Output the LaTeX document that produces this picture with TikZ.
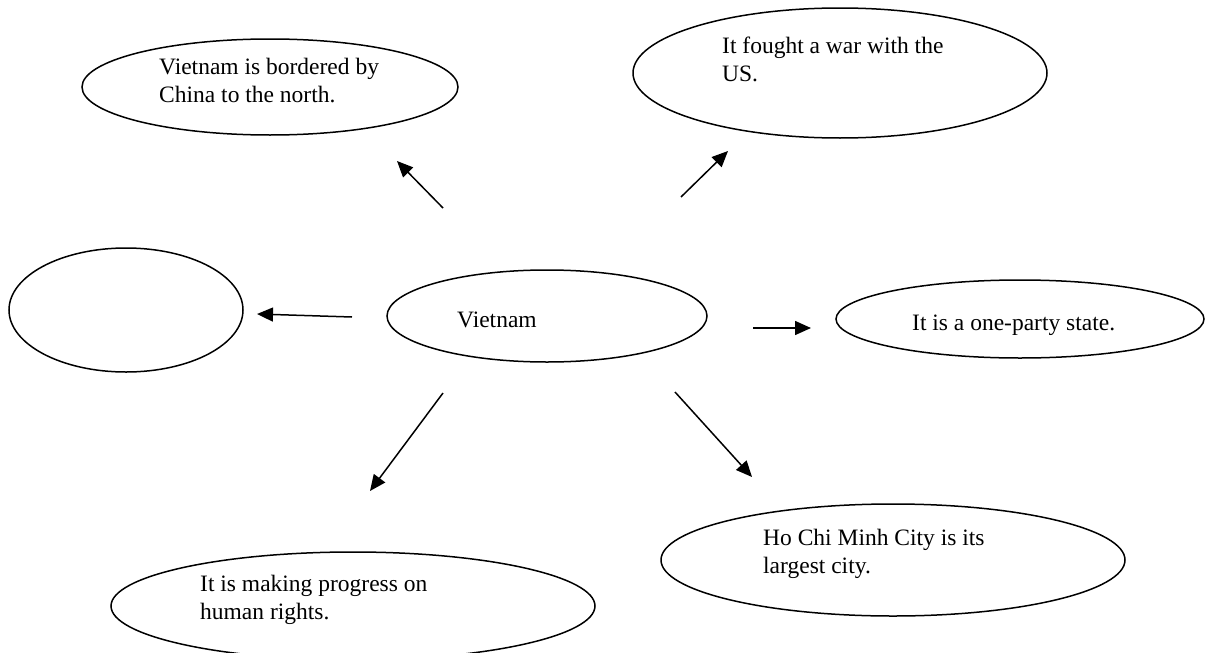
\documentclass[tikz,border=0pt]{standalone}
\usepackage{fontspec}
\setmainfont{Liberation Serif}
\usetikzlibrary{shapes.geometric,arrows.meta}
\tikzset{
  bubble/.style={draw=black, line width=1.5pt, ellipse, inner sep=0pt},
  lbl/.style={inner sep=0pt, anchor=base west, font=\fontsize{23.5}{28}\selectfont},
  arr/.style={draw=black, line width=1.5pt, -{Triangle[length=16pt,width=14pt]}}
}
\begin{document}
\begin{tikzpicture}[x=1pt,y=-1pt]
\useasboundingbox (0,0) rectangle (1207,653);
\fill[white] (0,0) rectangle (1207,653);
% ellipses
\node[bubble, minimum width=376pt, minimum height=96pt] (tl) at (270,87) {};
\node[bubble, minimum width=414pt, minimum height=130pt] (tr) at (840,73) {};
\node[bubble, minimum width=234pt, minimum height=124pt] (lf) at (126,310) {};
\node[bubble, minimum width=320pt, minimum height=92pt] (ct) at (547,316) {};
\node[bubble, minimum width=368pt, minimum height=78pt] (rt) at (1020,319) {};
\node[bubble, minimum width=464pt, minimum height=112pt] (br) at (893,560) {};
\node[bubble, minimum width=484pt, minimum height=108pt] (bl) at (353,606) {};
% texts
\node[lbl] (tlA) at (159,74) {Vietnam is bordered by};
\node[lbl] (tlB) at (159,102) {China to the north.};
\node[lbl] (trA) at (722,53) {It fought a war with the};
\node[lbl] (trB) at (722,81) {US.};
\node[lbl] (ctA) at (457,327) {Vietnam};
\node[lbl] (rtA) at (912,330) {It is a one-party state.};
\node[lbl] (brA) at (763,545) {Ho Chi Minh City is its};
\node[lbl] (brB) at (763,573) {largest city.};
\node[lbl] (blA) at (200,591) {It is making progress on};
\node[lbl] (blB) at (200,619) {human rights.};
% arrow end points
\coordinate (a1s) at (443,208); \coordinate (a1e) at (397,161);
\coordinate (a2s) at (681,197); \coordinate (a2e) at (728,151);
\coordinate (a3s) at (352,317); \coordinate (a3e) at (257,314);
\coordinate (a4s) at (753,328); \coordinate (a4e) at (811,328);
\coordinate (a5s) at (443,393); \coordinate (a5e) at (370,491);
\coordinate (a6s) at (675,392); \coordinate (a6e) at (752,477);
\draw[arr] (a1s) -- (a1e);
\draw[arr] (a2s) -- (a2e);
\draw[arr] (a3s) -- (a3e);
\draw[arr] (a4s) -- (a4e);
\draw[arr] (a5s) -- (a5e);
\draw[arr] (a6s) -- (a6e);
\end{tikzpicture}
\end{document}
